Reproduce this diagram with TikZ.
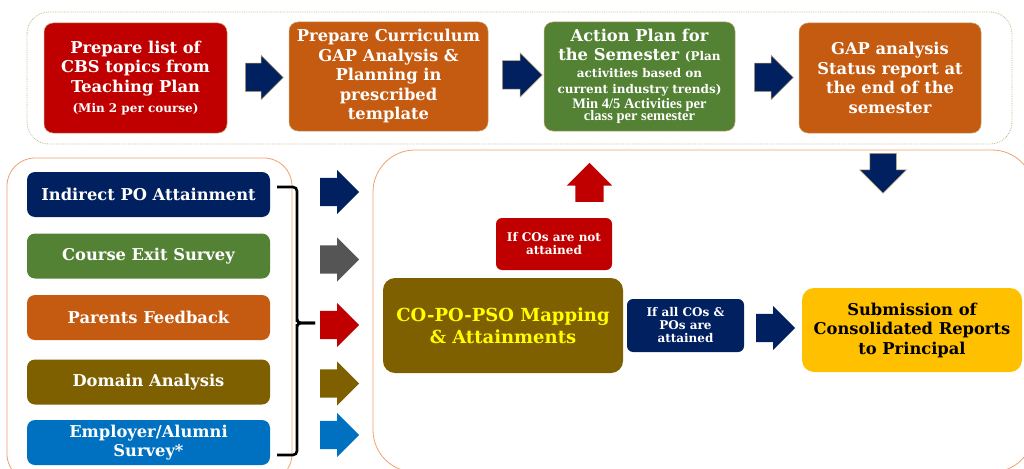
\documentclass[tikz,border=0pt]{standalone}
\usepackage{fontspec}
\setmainfont{DejaVu Serif}
\newfontfamily\narrowserif{Liberation Serif}
\usetikzlibrary{shapes.arrows}

\definecolor{navy}{RGB}{0,32,96}
\definecolor{gapred}{RGB}{192,0,0}
\definecolor{gaporange}{RGB}{197,90,17}
\definecolor{gapgreen}{RGB}{84,130,53}
\definecolor{gapolive}{RGB}{127,96,0}
\definecolor{gapblue}{RGB}{0,112,192}
\definecolor{gapgrey}{RGB}{85,85,85}
\definecolor{gapgold}{RGB}{255,192,0}
\definecolor{mapyellow}{RGB}{255,255,0}
\definecolor{edgetan}{RGB}{190,165,110}
\definecolor{panelbeige}{RGB}{196,182,140}
\definecolor{panelorange}{RGB}{240,160,110}

\newcommand{\taskfont}{\fontsize{16.3}{19.5}\selectfont\bfseries}
\newcommand{\notefont}{\fontsize{12}{13}\selectfont\bfseries}
\newcommand{\minifont}{\narrowserif\fontsize{14.5}{13}\selectfont\bfseries}

\tikzset{
    panel/.style={rounded corners=22pt, line width=0.8pt},
    taskbox/.style={draw=edgetan, line width=0.5pt, rounded corners=9pt, text=white, align=center, font=\taskfont, inner sep=1pt},
    inputbox/.style={rounded corners=8pt, text=white, align=center, font=\taskfont, minimum width=243pt, minimum height=45pt, inner sep=1pt},
    notebox/.style={rounded corners=6pt, text=white, align=center, font=\notefont, inner sep=1pt},
    blockarrow/.style={single arrow, anchor=tail, inner sep=0pt, inner ysep=14pt, minimum height=39pt, single arrow head extend=8pt},
    bracket/.style={line width=2.6pt, rounded corners=4pt}
}

\begin{document}
\begin{tikzpicture}[x=1pt,y=-1pt]
    \useasboundingbox (0,0) rectangle (1024,468);
    \clip (0,0) rectangle (1024,468);

    % panels
    \draw[panel, draw=panelbeige, densely dotted] (27,12) rectangle (1012,144);
    \draw[panel, draw=panelorange, rounded corners=28pt] (7,158) rectangle (292,482);
    \draw[panel, draw=panelorange, rounded corners=42pt] (373,150) rectangle (1034,472);

    % top row
    \node[taskbox, fill=gapred, minimum width=183pt, minimum height=110pt] (plan) at (135.5,78)
        {Prepare list of\\CBS topics from\\Teaching Plan\\[1pt]{\notefont (Min 2 per course)}};
    \node[taskbox, fill=gaporange, minimum width=199pt, minimum height=109pt] (gap) at (388.5,76.5)
        {Prepare Curriculum\\GAP Analysis \&\\Planning in\\prescribed\\template};
    \node[taskbox, fill=gapgreen, minimum width=191pt, minimum height=109pt] (action) at (639.5,76.5)
        {Action Plan for\\the Semester {\notefont(Plan}\\[-3pt]{\notefont activities based on}\\[-3pt]{\notefont current industry trends)}\\[-5pt]{\minifont Min 4/5 Activities per}\\[-7pt]{\minifont class per semester}};
    \node[taskbox, fill=gaporange, minimum width=182pt, minimum height=110pt] (status) at (890,78)
        {GAP analysis\\Status report at\\the end of the\\semester};

    \node[blockarrow, fill=navy, draw=edgetan, line width=0.5pt, minimum height=38pt] (go1) at (245,77.5) {};
    \node[blockarrow, fill=navy, draw=edgetan, line width=0.5pt, minimum height=40pt] (go2) at (502,75) {};
    \node[blockarrow, fill=navy, draw=edgetan, line width=0.5pt] (go3) at (754,77.5) {};
    \node[blockarrow, fill=navy, draw=edgetan, line width=0.5pt, minimum height=40pt, inner ysep=13pt, single arrow head extend=10pt, rotate=-90] (down) at (883,153) {};

    % inputs
    \node[inputbox, fill=navy] (indirect) at (148.5,194.5) {Indirect PO Attainment};
    \node[inputbox, fill=gapgreen] (exit) at (148.5,256) {Course Exit Survey};
    \node[inputbox, fill=gaporange] (parents) at (148.5,317.5) {Parents Feedback};
    \node[inputbox, fill=gapolive] (domain) at (148.5,382) {Domain Analysis};
    \node[inputbox, fill=gapblue] (alumni) at (148.5,442.5) {Employer/Alumni\\Survey*};

    \coordinate (bracetop) at (277,187);
    \coordinate (bracetip) at (315,323);
    \coordinate (bracebot) at (277,455);
    \draw[bracket] (bracetop) -| (297,318) -- (bracetip -| 297,0) |- (bracetip);
    \draw[bracket] (bracebot) -| (297,328) -- (297,323) -- (bracetip);

    \node[blockarrow, fill=navy] (in1) at (320,192) {};
    \node[blockarrow, fill=gapgrey] (in2) at (320,259.5) {};
    \node[blockarrow, fill=gapred] (in3) at (320,325) {};
    \node[blockarrow, fill=gapolive] (in4) at (320,383.5) {};
    \node[blockarrow, fill=gapblue] (in5) at (320,435) {};

    % mapping and outcomes
    \node[taskbox, draw=none, fill=gapolive, text=mapyellow, rounded corners=12pt, minimum width=240pt, minimum height=95pt, font=\fontsize{18}{22}\selectfont\bfseries] (mapping) at (503,325.5)
        {CO-PO-PSO Mapping\\\& Attainments};
    \node[notebox, fill=gapred, minimum width=116pt, minimum height=52pt] (notmet) at (554,244)
        {If COs are not\\attained};
    \node[blockarrow, fill=gapred, single arrow head extend=8.5pt, rotate=90] (up) at (589.5,202) {};
    \node[notebox, fill=navy, minimum width=117pt, minimum height=53pt] (allmet) at (685.5,325.5)
        {If all COs \&\\POs are\\attained};
    \node[blockarrow, fill=navy] (out) at (756,328) {};
    \node[taskbox, draw=none, fill=gapgold, text=black, rounded corners=12pt, minimum width=220pt, minimum height=84pt] (submit) at (912,330)
        {Submission of\\Consolidated Reports\\to Principal};
\end{tikzpicture}
\end{document}
